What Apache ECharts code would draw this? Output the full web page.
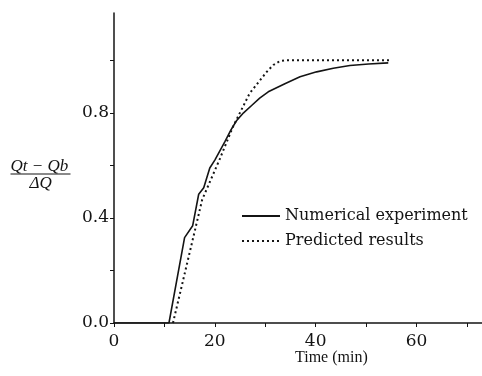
<!DOCTYPE html>
<html>
<head>
<meta charset="utf-8">
<script src="https://cdn.jsdelivr.net/npm/echarts@6/dist/echarts.min.js"></script>
<style>
  html, body { margin: 0; padding: 0; background: #fff; }
  #chart { width: 482px; height: 376px; }
</style>
</head>
<body>
<div id="chart"></div>
<script>
// values
var numTime = [0, 10.9, 14.0, 15.6, 16.8, 17.8, 19.0, 20.0, 22.0, 23.2, 24.3, 25.7, 27.3, 28.9, 30.6, 34.0, 36.9, 40.2, 43.5, 46.8, 50.5, 54.4];
var numVal = [0, 0, 0.325, 0.37, 0.49, 0.515, 0.59, 0.62, 0.69, 0.735, 0.77, 0.80, 0.828, 0.856, 0.88, 0.912, 0.937, 0.956, 0.97, 0.98, 0.986, 0.99];

var predTime = [11.7, 17.5, 21.0, 23.6, 26.9, 30.3, 31.6, 32.9, 34.0, 54.8];
var predVal = [0, 0.47, 0.625, 0.747, 0.874, 0.956, 0.982, 0.997, 1.0, 1.0];

var seriesNames = ["Numerical experiment", "Predicted results"];

function pairs(xs, ys) {
    return xs.map(function (x, i) {
        return [x, ys[i]];
    });
}

var ink = "#141414";
var serif = "DejaVu Serif";

var chart = echarts.init(document.getElementById("chart"));

chart.setOption({
    animation: false,
    backgroundColor: "#fff",
    grid: { left: 114, right: 0, top: 13, bottom: 53 },
    legend: {
        orient: "vertical",
        left: 236,
        top: 203,
        itemWidth: 38,
        itemHeight: 16,
        itemGap: 9,
        itemStyle: { opacity: 0 }, // line only, no marker
        textStyle: { fontFamily: serif, fontSize: 16, color: ink },
        data: seriesNames,
    },
    xAxis: {
        type: "value",
        min: 0,
        max: 73,
        interval: 10,
        splitLine: { show: false },
        axisLine: { lineStyle: { color: ink, width: 1.5 } },
        axisTick: { length: 4, lineStyle: { color: ink } },
        axisLabel: {
            margin: 10,
            fontFamily: serif,
            fontSize: 17,
            color: ink,
            showMaxLabel: false,
            formatter: function (v) {
                return v % 20 === 0 && v <= 60 ? String(v) : "";
            },
        },
    },
    yAxis: {
        type: "value",
        min: 0,
        max: 1.18,
        interval: 0.2,
        splitLine: { show: false },
        axisLine: { lineStyle: { color: ink, width: 1.5 } },
        axisTick: { length: 4, lineStyle: { color: ink } },
        axisLabel: {
            margin: 5,
            fontFamily: serif,
            fontSize: 17,
            color: ink,
            showMaxLabel: false,
            formatter: function (v) {
                var k = Math.round(v * 10);
                return k % 4 === 0 && v < 1.1 ? v.toFixed(1) : "";
            },
        },
    },
    graphic: [
        {
            // x axis title
            type: "text",
            left: 295,
            top: 350,
            style: { text: "Time (min)", font: "16px 'Liberation Serif'", fill: ink },
        },
        {
            // y axis title, as a fraction
            type: "group",
            left: 8,
            top: 158,
            children: [
                {
                    type: "text",
                    x: 0,
                    y: 0,
                    style: { text: "Qt − Qb", font: "italic 17px 'Liberation Serif'", fill: ink },
                },
                {
                    type: "line",
                    shape: { x1: 0, y1: 16, x2: 60, y2: 16 },
                    style: { stroke: ink, lineWidth: 1.2 },
                },
                {
                    type: "text",
                    x: 19,
                    y: 17,
                    style: { text: "ΔQ", font: "italic 17px 'Liberation Serif'", fill: ink },
                },
            ],
        },
    ],
    series: [
        {
            name: seriesNames[0],
            type: "line",
            data: pairs(numTime, numVal),
            symbol: "none",
            lineStyle: { color: ink, width: 1.6 },
            itemStyle: { color: ink },
            z: 3,
        },
        {
            name: seriesNames[1],
            type: "line",
            data: pairs(predTime, predVal),
            symbol: "none",
            lineStyle: { color: ink, width: 2, type: [2, 3] },
            itemStyle: { color: ink },
            z: 2,
        },
    ],
});
</script>
</body>
</html>
